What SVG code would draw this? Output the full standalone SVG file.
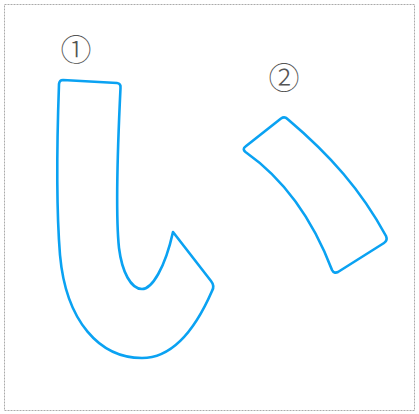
<svg xmlns="http://www.w3.org/2000/svg" width="419" height="414" viewBox="0 0 419 414">
<style>
.s{fill:none;stroke:#0aa2f2;stroke-width:2.6;stroke-linejoin:round}
.n{font-family:"Noto Sans CJK JP","DejaVu Sans",sans-serif;font-size:31px;fill:#555;font-weight:300}
</style>
<rect x="0" y="0" width="419" height="414" fill="#fff"/>
<rect x="4.5" y="4.5" width="410" height="406" fill="none" stroke="#aaa" stroke-width="1" stroke-dasharray="2,1"/>
<g id="stroke1">
<path class="s" d="M63,80 L117,83 Q121,83.5 120.5,88 C117.5,150 115.5,215 119,248 C122,272 131,289 142,289 C152,289 165,268 173,232 L211,281 Q215,286 212,291 C195,330 172,358 142,358 C100,358 66,322 60,255 C56,205 57,140 59,84 Q59.5,80 63,80 Z"/>
<text class="n" x="76" y="61" text-anchor="middle">①</text>
</g>
<g id="stroke2">
<path class="s" d="M281,118.5 Q284.5,116 287.5,119 C330,155 361,190 386,236 Q388,240.5 384,243 L338,272 Q334,274 332,270 C311,215 281,177 245.5,152 Q242,149 245.5,146.5 Z"/>
<text class="n" x="284" y="89" text-anchor="middle">②</text>
</g>
</svg>
